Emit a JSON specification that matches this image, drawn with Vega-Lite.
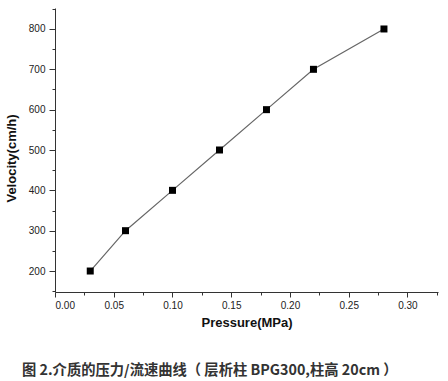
{
  "$schema": "https://vega.github.io/schema/vega-lite/v6.json",
  "width": 383,
  "height": 284,
  "autosize": "none",
  "padding": {"left": 55, "top": 8, "right": 10, "bottom": 89},
  "background": "white",
  "config": {"view": {"stroke": null}},
  "title": {
    "text": "图 2.介质的压力/流速曲线（ 层析柱 BPG300,柱高 20cm ）",
    "orient": "bottom",
    "anchor": "start",
    "frame": "group",
    "dx": -33,
    "offset": 35,
    "font": "Noto Sans CJK SC",
    "fontSize": 14.3,
    "fontWeight": "bold",
    "color": "#333333"
  },
  "data": {
    "values": [
      {"p": 0.03, "v": 200},
      {"p": 0.06, "v": 300},
      {"p": 0.10, "v": 400},
      {"p": 0.14, "v": 500},
      {"p": 0.18, "v": 600},
      {"p": 0.22, "v": 700},
      {"p": 0.28, "v": 800}
    ]
  },
  "encoding": {
    "x": {
      "field": "p",
      "type": "quantitative",
      "scale": {"domain": [0, 0.326], "nice": false, "zero": false},
      "axis": {
        "title": "Pressure(MPa)",
        "values": [0, 0.025, 0.05, 0.075, 0.1, 0.125, 0.15, 0.175, 0.2, 0.225, 0.25, 0.275, 0.3, 0.325],
        "format": ".2f",
        "labelExpr": "round(datum.value*1000) % 50 === 0 ? datum.label : ''",
        "tickSize": {"expr": "round(datum.value*1000) % 50 === 0 ? 5 : 3"},
        "grid": false,
        "domainColor": "#333333",
        "tickColor": "#333333",
        "labelFont": "Liberation Sans",
        "labelFontSize": 10,
        "labelColor": "#222222",
        "labelPadding": 3,
        "titleFont": "Liberation Sans",
        "titleFontSize": 13,
        "titleFontWeight": "bold",
        "titleColor": "#111111",
        "titlePadding": 6
      }
    },
    "y": {
      "field": "v",
      "type": "quantitative",
      "scale": {"domain": [148, 852], "nice": false, "zero": false},
      "axis": {
        "title": "Velocity(cm/h)",
        "titleY": 150,
        "values": [150, 200, 250, 300, 350, 400, 450, 500, 550, 600, 650, 700, 750, 800, 850],
        "labelExpr": "datum.value % 100 === 0 ? datum.label : ''",
        "tickSize": {"expr": "datum.value % 100 === 0 ? 6 : 3"},
        "grid": false,
        "domainColor": "#333333",
        "tickColor": "#333333",
        "labelFont": "Liberation Sans",
        "labelFontSize": 10,
        "labelColor": "#222222",
        "labelPadding": 4,
        "titleFont": "Liberation Sans",
        "titleFontSize": 13,
        "titleFontWeight": "bold",
        "titleColor": "#111111",
        "titlePadding": 10
      }
    }
  },
  "layer": [
    {"mark": {"type": "line", "color": "#666666", "strokeWidth": 1.2}},
    {"mark": {"type": "point", "shape": "square", "filled": true, "color": "#000000", "opacity": 1, "size": 49}}
  ]
}
